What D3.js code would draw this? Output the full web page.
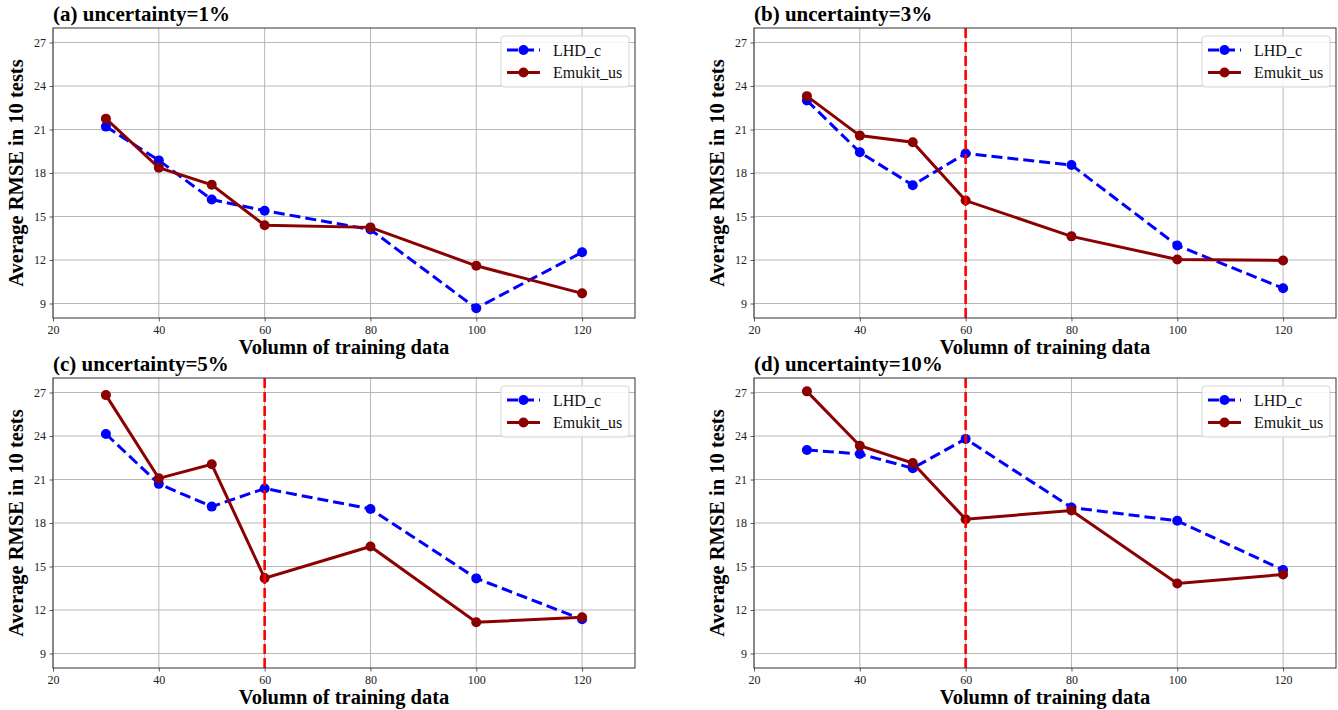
<!DOCTYPE html>
<html>
<head>
<meta charset="utf-8">
<script src="https://cdn.jsdelivr.net/npm/d3@7"></script>
<style>
  body { margin: 0; background: #fff; }
  svg text { font-family: "Liberation Serif", "Times New Roman", serif; }
</style>
</head>
<body>
<div id="chart"></div>
<script>
const WIDTH = 1338
const HEIGHT = 710

// data
const volumes = [30, 40, 50, 60, 80, 100, 120]
const titles = ['(a) uncertainty=1%', '(b) uncertainty=3%', '(c) uncertainty=5%', '(d) uncertainty=10%']
const lhdA = [21.2, 18.87, 16.17, 15.4, 14.1, 8.67, 12.53]
const emuA = [21.75, 18.36, 17.19, 14.4, 14.25, 11.6, 9.7]
const lhdB = [23.0, 19.43, 17.16, 19.35, 18.55, 13.0, 10.05]
const emuB = [23.3, 20.58, 20.12, 16.1, 13.63, 12.04, 11.97]
const lhdC = [24.14, 20.7, 19.13, 20.38, 18.97, 14.18, 11.36]
const emuC = [26.82, 21.08, 22.05, 14.2, 16.38, 11.15, 11.5]
const lhdD = [23.04, 22.76, 21.78, 23.8, 19.07, 18.15, 14.76]
const emuD = [27.08, 23.33, 22.14, 18.26, 18.86, 13.83, 14.45]
const cutLine = [null, 60, 60, 60] // red dashed marker
const xTicks = [20, 40, 60, 80, 100, 120]
const yTicks = [9, 12, 15, 18, 21, 24, 27]
const seriesNames = ['LHD_c', 'Emukit_us']

const lhdAll = [lhdA, lhdB, lhdC, lhdD]
const emuAll = [emuA, emuB, emuC, emuD]

// panel boxes
const PW = 582
const PH = 290
const origins = [[53, 28], [754, 28], [53, 378], [754, 378]]

const BLUE = '#0000ff'
const DARKRED = '#8b0000'

const svg = d3.select('#chart').append('svg').attr('width', WIDTH).attr('height', HEIGHT)

const x = d3.scaleLinear().domain([20, 130]).range([0, PW])
const y = d3.scaleLinear().domain([8, 28]).range([PH, 0])

origins.forEach((o, p) => {
    const g = svg.append('g').attr('transform', `translate(${o[0]}, ${o[1]})`)

    // grid
    g.append('g').selectAll('line').data(xTicks).enter().append('line')
        .attr('x1', d => x(d)).attr('x2', d => x(d))
        .attr('y1', 0).attr('y2', PH)
        .attr('stroke', '#b0b0b0').attr('stroke-width', 0.9)
    g.append('g').selectAll('line').data(yTicks).enter().append('line')
        .attr('x1', 0).attr('x2', PW)
        .attr('y1', d => y(d)).attr('y2', d => y(d))
        .attr('stroke', '#b0b0b0').attr('stroke-width', 0.9)

    // axes
    const ax = g.append('g').attr('transform', `translate(0, ${PH})`)
        .call(d3.axisBottom(x).tickValues(xTicks).tickSize(3.5).tickPadding(3.5))
    const ay = g.append('g')
        .call(d3.axisLeft(y).tickValues(yTicks).tickSize(3.5).tickPadding(3.5))
    ;[ax, ay].forEach(a => {
        a.select('.domain').remove()
        a.selectAll('text').attr('font-family', '"Liberation Serif", serif').attr('font-size', 12).attr('fill', '#222')
        a.selectAll('line').attr('stroke', '#333').attr('stroke-width', 0.8)
    })

    const line = d3.line().x((d, i) => x(volumes[i])).y(d => y(d))

    g.append('path').datum(lhdAll[p]).attr('d', line)
        .attr('fill', 'none').attr('stroke', BLUE).attr('stroke-width', 3)
        .attr('stroke-dasharray', '11,5')
    g.append('g').selectAll('circle').data(lhdAll[p]).enter().append('circle')
        .attr('cx', (d, i) => x(volumes[i])).attr('cy', d => y(d)).attr('r', 5).attr('fill', BLUE)

    g.append('path').datum(emuAll[p]).attr('d', line)
        .attr('fill', 'none').attr('stroke', DARKRED).attr('stroke-width', 3)
    g.append('g').selectAll('circle').data(emuAll[p]).enter().append('circle')
        .attr('cx', (d, i) => x(volumes[i])).attr('cy', d => y(d)).attr('r', 5).attr('fill', DARKRED)

    if (cutLine[p] !== null) {
        g.append('line')
            .attr('x1', x(cutLine[p])).attr('x2', x(cutLine[p]))
            .attr('y1', 0).attr('y2', PH)
            .attr('stroke', '#ff0000').attr('stroke-width', 2.6)
            .attr('stroke-dasharray', '10,4')
    }

    // frame
    g.append('rect').attr('width', PW).attr('height', PH)
        .attr('fill', 'none').attr('stroke', '#333').attr('stroke-width', 1)

    // legend
    const lg = g.append('g').attr('transform', `translate(${PW - 134}, 8)`)
    lg.append('rect').attr('width', 128).attr('height', 51).attr('rx', 3)
        .attr('fill', 'white').attr('fill-opacity', 0.85).attr('stroke', '#d6d6d6')
    seriesNames.forEach((name, k) => {
        const ly = 14 + k * 22.5
        const col = k === 0 ? BLUE : DARKRED
        lg.append('line').attr('x1', 6).attr('x2', 39).attr('y1', ly).attr('y2', ly)
            .attr('stroke', col).attr('stroke-width', 3)
            .attr('stroke-dasharray', k === 0 ? '11,5' : null)
        lg.append('circle').attr('cx', 22.5).attr('cy', ly).attr('r', 5).attr('fill', col)
        lg.append('text').attr('x', 52).attr('y', ly + 5.5)
            .attr('font-size', 16).attr('fill', '#111').text(name)
    })

    // title
    g.append('text').attr('x', 0).attr('y', -7)
        .attr('font-size', 21).attr('font-weight', 'bold').text(titles[p])

    // axis labels
    g.append('text').attr('x', PW / 2).attr('y', PH + 36)
        .attr('text-anchor', 'middle').attr('font-size', 20.5).attr('font-weight', 'bold')
        .text('Volumn of training data')
    g.append('text')
        .attr('transform', `translate(-30, ${PH / 2}) rotate(-90)`)
        .attr('text-anchor', 'middle').attr('font-size', 20.5).attr('font-weight', 'bold')
        .text('Average RMSE in 10 tests')
})
</script>
</body>
</html>
